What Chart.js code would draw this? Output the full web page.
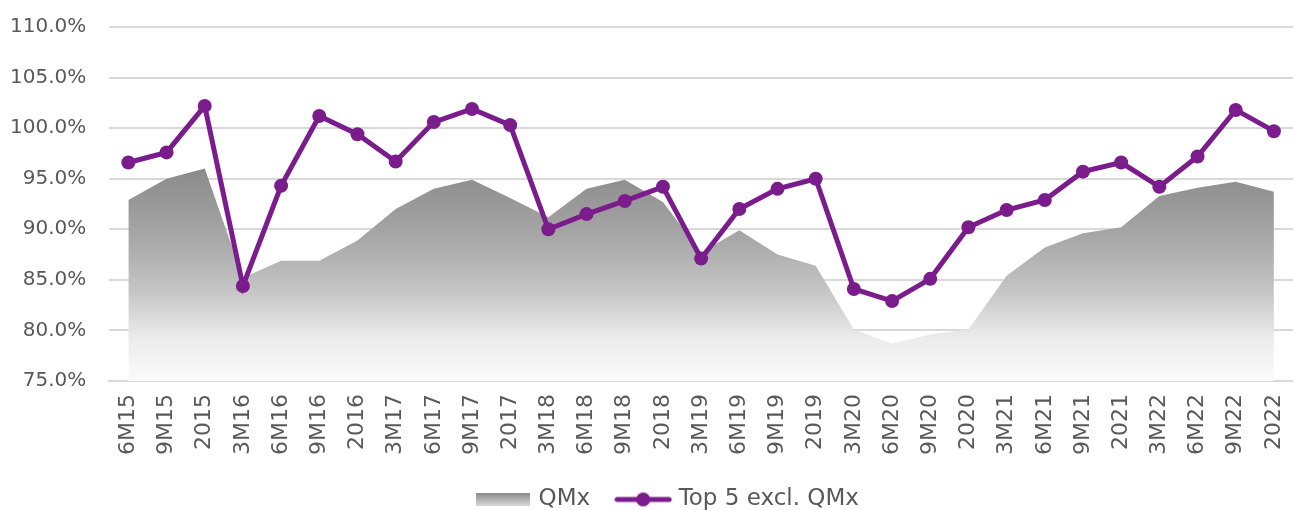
<!DOCTYPE html>
<html>
<head>
<meta charset="utf-8">
<script src="https://cdn.jsdelivr.net/npm/chart.js@4/dist/chart.umd.min.js"></script>
<style>
  body { margin: 0; background: #fff; }
</style>
</head>
<body>
<canvas id="chart" width="1293" height="510"></canvas>
<script>
// periodes
const categories = ['6M15', '9M15', '2015', '3M16', '6M16', '9M16', '2016', '3M17', '6M17', '9M17', '2017',
  '3M18', '6M18', '9M18', '2018', '3M19', '6M19', '9M19', '2019', '3M20', '6M20', '9M20', '2020',
  '3M21', '6M21', '9M21', '2021', '3M22', '6M22', '9M22', '2022'];

// QMx (area)
const qmxValues = [92.9, 95.0, 96.0, 85.2, 86.9, 86.9, 88.9, 92.0, 94.0, 94.9, 93.1,
  91.2, 94.0, 94.9, 92.7, 87.7, 89.9, 87.5, 86.4, 80.1, 78.7, 79.6, 80.1,
  85.4, 88.2, 89.6, 90.2, 93.3, 94.1, 94.7, 93.7];

// Top 5 excl. QMx (line)
const top5Values = [96.6, 97.6, 102.2, 84.4, 94.3, 101.2, 99.4, 96.7, 100.6, 101.9, 100.3,
  90.0, 91.5, 92.8, 94.2, 87.1, 92.0, 94.0, 95.0, 84.1, 82.9, 85.1, 90.2,
  91.9, 92.9, 95.7, 96.6, 94.2, 97.2, 101.8, 99.7];

const yTicks = [75, 80, 85, 90, 95, 100, 105, 110];

const purple = '#7a1c8b';
const textColor = '#595959';
const fontFamily = "'DejaVu Sans', sans-serif";

// gradient untuk area QMx
function areaGradient(context) {
  const chart = context.chart;
  const area = chart.chartArea;
  if (!area) return '#aaaaaa';
  const g = chart.ctx.createLinearGradient(0, area.top, 0, area.bottom);
  g.addColorStop(0, '#6e6e6e');
  g.addColorStop(0.4, '#8a8a8a');
  g.addColorStop(0.6, '#a8a8a8');
  g.addColorStop(0.75, '#c6c6c6');
  g.addColorStop(0.88, '#ececec');
  g.addColorStop(1, '#fbfbfb');
  return g;
}

// ikon legend
function makeAreaIcon() {
  const c = document.createElement('canvas');
  c.width = 54; c.height = 13;
  const x = c.getContext('2d');
  const g = x.createLinearGradient(0, 0, 0, 13);
  g.addColorStop(0, '#8a8a8a');
  g.addColorStop(1, '#d8d8d8');
  x.fillStyle = g;
  x.fillRect(0, 0, 54, 13);
  return c;
}

function makeLineIcon() {
  const c = document.createElement('canvas');
  c.width = 58; c.height = 16;
  const x = c.getContext('2d');
  x.strokeStyle = purple;
  x.lineWidth = 5;
  x.lineCap = 'round';
  x.beginPath();
  x.moveTo(3, 8);
  x.lineTo(55, 8);
  x.stroke();
  x.fillStyle = purple;
  x.beginPath();
  x.arc(29, 8, 7, 0, Math.PI * 2);
  x.fill();
  return c;
}

const areaIcon = makeAreaIcon();
const lineIcon = makeLineIcon();

// geser legend sedikit ke kanan seperti di gambar asli
const legendShift = {
  id: 'legendShift',
  afterLayout: function(chart) {
    if (chart.legend) {
      chart.legend.left += 24;
      chart.legend.right += 24;
    }
  }
};

const ctx = document.getElementById('chart').getContext('2d');
const chart = new Chart(ctx, {
  type: 'line',
  data: {
    labels: categories,
    datasets: [
      {
        label: 'QMx',
        data: qmxValues,
        fill: 'start',
        backgroundColor: areaGradient,
        borderWidth: 0,
        borderColor: 'rgba(0,0,0,0)',
        pointRadius: 0,
        tension: 0,
        order: 2
      },
      {
        label: 'Top 5 excl. QMx',
        data: top5Values,
        borderColor: purple,
        backgroundColor: purple,
        borderWidth: 5,
        pointRadius: 7,
        pointHoverRadius: 7,
        pointBackgroundColor: purple,
        pointBorderWidth: 0,
        tension: 0,
        fill: false,
        order: 1
      }
    ]
  },
  plugins: [legendShift],
  options: {
    responsive: false,
    animation: false,
    layout: {
      autoPadding: false,
      padding: { left: -13, right: -10, top: 27, bottom: 0 }
    },
    scales: {
      x: {
        offset: true,
        grid: { display: false, drawTicks: false },
        border: { display: true, color: '#d9d9d9', width: 2 },
        afterFit: function(scale) {
          scale.paddingLeft = 0;
          scale.paddingRight = 0;
          scale.height = 78;
        },
        ticks: {
          color: textColor,
          font: { family: fontFamily, size: 22 },
          minRotation: 90,
          maxRotation: 90,
          autoSkip: false,
          padding: 13
        }
      },
      y: {
        min: 75,
        max: 110,
        afterBuildTicks: function(scale) {
          scale.ticks = yTicks.map(v => ({ value: v }));
        },
        afterFit: function(scale) {
          scale.paddingTop = 0;
          scale.paddingBottom = 0;
        },
        grid: { color: '#d9d9d9', lineWidth: 2, drawTicks: false },
        border: { display: false },
        ticks: {
          color: textColor,
          font: { family: fontFamily, size: 20 },
          padding: 23,
          callback: function(value) {
            return value.toFixed(1) + '%';
          }
        }
      }
    },
    plugins: {
      tooltip: { enabled: false },
      legend: {
        position: 'bottom',
        maxHeight: 51,
        labels: {
          color: textColor,
          font: { family: fontFamily, size: 23 },
          usePointStyle: true,
          pointStyleWidth: 48,
          padding: 29,
          sort: function(a, b) {
            return a.datasetIndex - b.datasetIndex;
          },
          generateLabels: function(chart) {
            const items = Chart.defaults.plugins.legend.labels.generateLabels(chart);
            items.forEach(item => {
              item.pointStyle = item.datasetIndex === 0 ? areaIcon : lineIcon;
              item.fontColor = textColor;
            });
            return items;
          }
        }
      }
    }
  }
});
</script>
</body>
</html>
